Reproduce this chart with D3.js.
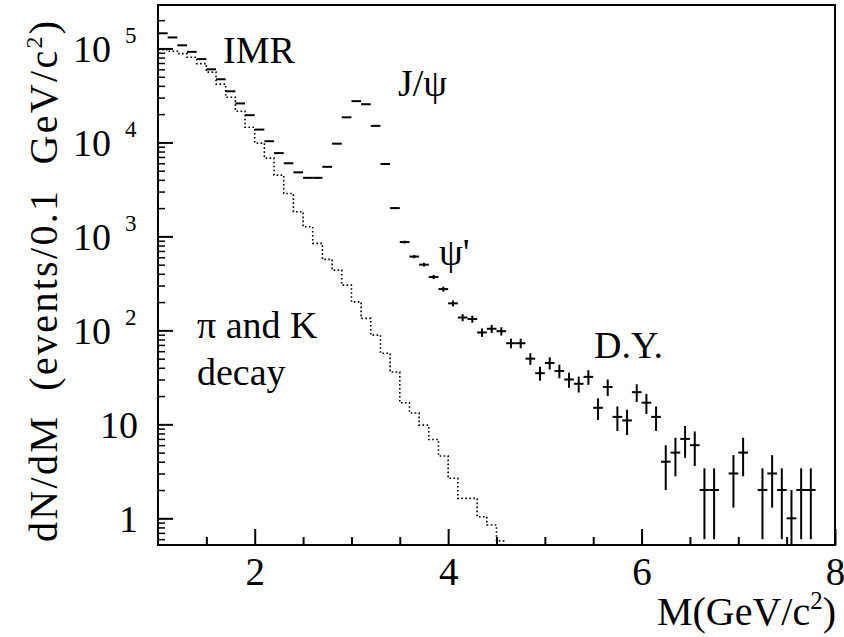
<!DOCTYPE html>
<html><head><meta charset="utf-8">
<script src="https://cdn.jsdelivr.net/npm/d3@7"></script>
<style>
html,body{margin:0;padding:0;background:#fff;}
svg{display:block;}
</style></head><body>
<svg id="chart" width="844" height="637"></svg>
<script>
const FONT = "'Liberation Serif'";
// Data histogram: bin low edges (GeV/c^2), bin width 0.1
const dataMassLow = [
  1.0,1.1,1.2,1.3,1.4,1.5,1.6,1.7,1.8,1.9,
  2.0,2.1,2.2,2.3,2.4,2.5,2.6,2.7,2.8,2.9,
  3.0,3.1,3.2,3.3,3.4,3.5,3.6,3.7,3.8,3.9,
  4.0,4.1,4.2,4.3,4.4,4.5,4.6,4.7,4.8,4.9,
  5.0,5.1,5.2,5.3,5.4,5.5,5.6,5.7,5.8,5.9,
  6.0,6.1,6.2,6.3,6.4,6.5,6.6,6.7,6.8,6.9,
  7.0,7.1,7.2,7.3,7.4,7.5,7.6,7.7];
const dataCounts = [
  145000,131000,108000,92000,77000,60000,47000,35000,26000,19500,
  13700,10300,7700,6000,4800,4200,4200,5500,9700,18500,
  27500,25500,15000,5900,2000,870,610,500,370,275,
  194,137,132,95,104,98,73,73,50,35,
  45,37,30,27,32,15,25,12,11,22,
  17,12,4,5,7,6,2,2,0,3,
  5,0,2,3,2,1,2,2];
const dataErrors = [
  381,362,329,303,277,245,217,187,161,140,
  117,101,88,77,69,65,65,74,98,136,
  166,160,122,77,45,29.5,24.7,22.4,19.2,16.6,
  13.9,11.7,11.5,9.7,10.2,9.9,8.5,8.5,7.1,5.9,
  6.7,6.1,5.5,5.2,5.7,3.9,5.0,3.5,3.3,4.7,
  4.1,3.5,2.0,2.2,2.6,2.4,1.4,1.4,0,1.7,
  2.2,0,1.4,1.7,1.4,1.0,1.4,1.4];
const binWidth = 0.1;

// pi and K decay (dotted histogram)
const piKMassLow = [
  1.0,1.1,1.2,1.3,1.4,1.5,1.6,1.7,1.8,1.9,
  2.0,2.1,2.2,2.3,2.4,2.5,2.6,2.7,2.8,2.9,
  3.0,3.1,3.2,3.3,3.4,3.5,3.6,3.7,3.8,3.9,
  4.0,4.1,4.2,4.3,4.4,4.5];
const piKCounts = [
  97000,93500,88000,80700,68900,56000,41700,30300,21500,14500,
  9840,6810,4490,2860,1830,1265,843,569,438,303,
  201,134,89,57,36,17,13.2,9.8,6.9,4.6,
  2.67,1.63,1.63,1.04,0.85,0.575];

// axis ticks
const xMajorTicks = [2,4,6,8];
const xMinorTicks = [1.5,2.5,3,3.5,4.5,5,5.5,6.5,7,7.5];
const yMajorTicks = [1,10,100,1000,10000,100000];
const yMajorBase = ["1","10","10","10","10","10"];
const yMajorExp = ["","","2","3","4","5"];
const yMinorTicks = [0.6,0.7,0.8,0.9,
  2,3,4,5,6,7,8,9, 20,30,40,50,60,70,80,90,
  200,300,400,500,600,700,800,900, 2000,3000,4000,5000,6000,7000,8000,9000,
  20000,30000,40000,50000,60000,70000,80000,90000, 200000];

const L = 158, R = 835, T = 5, B = 545;
const svg = d3.select("#chart");
const x = d3.scaleLinear().domain([1,8]).range([L,R]);
const y = d3.scaleLog().domain([0.52, 2.9e5]).range([B,T]);

function txt(parent){ return parent.append("text").style("font-family",FONT).attr("fill","#000"); }

svg.append("clipPath").attr("id","clip").append("rect")
  .attr("x",L).attr("y",T).attr("width",R-L).attr("height",B-T);

// axes ticks (inward)
svg.append("g").attr("transform",`translate(0,${B})`)
  .call(d3.axisBottom(x).tickValues(xMinorTicks).tickSizeInner(-8).tickSizeOuter(0).tickFormat(""))
  .call(g=>{g.select(".domain").remove(); g.selectAll("line").attr("stroke","#000").attr("stroke-width",2);});
svg.append("g").attr("transform",`translate(0,${B})`)
  .call(d3.axisBottom(x).tickValues(xMajorTicks).tickSizeInner(-16).tickSizeOuter(0).tickPadding(12).tickFormat(d3.format("d")))
  .call(g=>{g.select(".domain").remove();
    g.selectAll("line").attr("stroke","#000").attr("stroke-width",2);
    g.selectAll("text").attr("font-size",39).attr("fill","#000").style("font-family",FONT);});

svg.append("g").attr("transform",`translate(${L},0)`)
  .call(d3.axisLeft(y).tickValues(yMinorTicks).tickSizeInner(-7).tickSizeOuter(0).tickFormat(""))
  .call(g=>{g.select(".domain").remove(); g.selectAll("line").attr("stroke","#000").attr("stroke-width",1.5);});
svg.append("g").attr("transform",`translate(${L},0)`)
  .call(d3.axisLeft(y).tickValues(yMajorTicks).tickSizeInner(-15).tickSizeOuter(0).tickFormat(""))
  .call(g=>{g.select(".domain").remove(); g.selectAll("line").attr("stroke","#000").attr("stroke-width",2);});

// y tick labels
yMajorTicks.forEach((v,i)=>{
  const yy = y(v);
  if (yMajorExp[i] === "") {
    txt(svg).attr("x",138).attr("y",yy+14).attr("text-anchor","end")
      .attr("font-size",38).text(yMajorBase[i]);
  } else {
    txt(svg).attr("x",111).attr("y",yy+14).attr("text-anchor","end")
      .attr("font-size",38).text(yMajorBase[i]);
    txt(svg).attr("x",125).attr("y",yy-5).attr("text-anchor","start")
      .attr("font-size",23).text(yMajorExp[i]);
  }
});

// frame
svg.append("rect").attr("x",L).attr("y",T).attr("width",R-L).attr("height",B-T)
  .attr("fill","none").attr("stroke","#000").attr("stroke-width",2);

const plot = svg.append("g").attr("clip-path","url(#clip)");

// pi/K dotted step histogram
const piKPts = piKMassLow.map((m,i)=>[m,piKCounts[i]]);
piKPts.push([piKMassLow[piKMassLow.length-1]+binWidth, piKCounts[piKCounts.length-1]]);
plot.append("path")
  .attr("d", d3.line().x(d=>x(d[0])).y(d=>y(d[1])).curve(d3.curveStepAfter)(piKPts))
  .attr("fill","none").attr("stroke","#000").attr("stroke-width",1.6)
  .attr("stroke-dasharray","1.6,2.4");

// data points
const pts = dataMassLow.map((m,i)=>({lo:m, v:dataCounts[i], e:dataErrors[i]})).filter(d=>d.v>0);
plot.selectAll("line.hbar").data(pts).join("line").attr("class","hbar")
  .attr("x1",d=>x(d.lo)).attr("x2",d=>x(d.lo+binWidth))
  .attr("y1",d=>y(d.v)).attr("y2",d=>y(d.v))
  .attr("stroke","#000").attr("stroke-width",2);
plot.selectAll("line.ebar").data(pts.filter(d=>d.e>0)).join("line").attr("class","ebar")
  .attr("x1",d=>x(d.lo+binWidth/2)).attr("x2",d=>x(d.lo+binWidth/2))
  .attr("y1",d=>y(d.v+d.e))
  .attr("y2",d=>(d.v-d.e) > y.domain()[0] ? y(d.v-d.e) : B)
  .attr("stroke","#000").attr("stroke-width",2);

// annotations
const ann = [
  {t:"IMR", x:223, y:63},
  {t:"J/ψ", x:398, y:96},
  {t:"ψ'", x:439, y:265},
  {t:"π and K", x:197, y:338},
  {t:"decay", x:197, y:385},
  {t:"D.Y.", x:594, y:358}
];
ann.forEach(a=>txt(svg).attr("x",a.x).attr("y",a.y).attr("font-size",38).text(a.t));

// axis titles
const xt = txt(svg).attr("x",836).attr("y",625).attr("text-anchor","end").attr("font-size",40);
xt.append("tspan").text("M(GeV/c");
xt.append("tspan").attr("dy",-16).attr("font-size",25).text("2");
xt.append("tspan").attr("dy",16).text(")");

const yt = txt(svg).attr("transform","translate(57,542) rotate(-90)")
  .attr("font-size",40).style("word-spacing","12px").style("letter-spacing","2.3px");
yt.append("tspan").text("dN/dM (events/0.1 GeV/c");
yt.append("tspan").attr("dy",-15).attr("font-size",24).text("2");
yt.append("tspan").attr("dy",15).text(")");
</script>
</body></html>
